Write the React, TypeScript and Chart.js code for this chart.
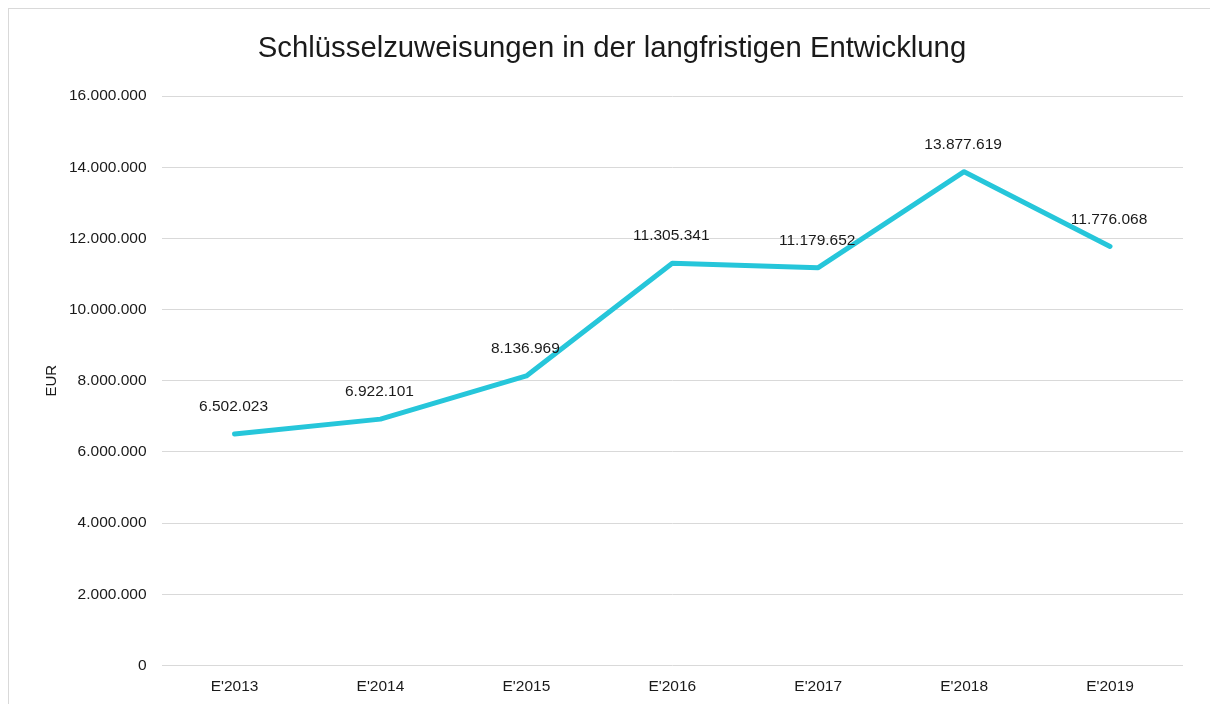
import React, { useEffect, useRef } from "react";
import { Chart, registerables } from "chart.js";

Chart.register(...registerables);

const categories = ["E'2013", "E'2014", "E'2015", "E'2016", "E'2017", "E'2018", "E'2019"];
const values = [6502023, 6922101, 8136969, 11305341, 11179652, 13877619, 11776068];
const chartTitle = "Schlüsselzuweisungen in der langfristigen Entwicklung";
const yAxisTitle = "EUR";

const FONT = "'Liberation Sans', Arial, sans-serif";

function fmt(n: number): string {
  return Math.round(n).toString().replace(/\B(?=(\d{3})+(?!\d))/g, ".");
}

const dataLabelPlugin = {
  id: "dataLabels",
  afterDatasetsDraw(chart: any) {
    const ctx = chart.ctx;
    const meta = chart.getDatasetMeta(0);
    ctx.save();
    ctx.font = `15.5px ${FONT}`;
    ctx.fillStyle = "#1a1a1a";
    ctx.textAlign = "center";
    ctx.textBaseline = "middle";
    meta.data.forEach((el: any, i: number) => {
      ctx.fillText(fmt(values[i]), el.x - 1, el.y - 27);
    });
    ctx.restore();
  },
};

export default function App() {
  const ref = useRef<HTMLCanvasElement | null>(null);
  useEffect(() => {
    document.body.style.overflow = "hidden";
    const c = ref.current!;
    const chart = new Chart(c, {
      type: "line",
      data: {
        labels: categories,
        datasets: [
          {
            data: values,
            borderColor: "#26C6DA",
            backgroundColor: "#26C6DA",
            borderWidth: 5,
            pointRadius: 0,
            pointHoverRadius: 0,
            tension: 0,
            borderCapStyle: "round",
            borderJoinStyle: "round",
          },
        ],
      },
      options: {
        animation: false,
        responsive: false,
        maintainAspectRatio: false,
        layout: { padding: { top: 12, left: 32, right: 28, bottom: 1 } },
        plugins: {
          legend: { display: false },
          tooltip: { enabled: false },
          title: {
            display: true,
            text: chartTitle,
            color: "#1a1a1a",
            font: { family: FONT, size: 29.3, weight: "normal" },
            padding: { top: 10, bottom: 30 },
          },
        },
        scales: {
          x: {
            offset: true,
            grid: { display: false, drawTicks: false },
            border: { display: false },
            ticks: { color: "#1a1a1a", font: { family: FONT, size: 15.5 }, padding: 12 },
          },
          y: {
            min: 0,
            max: 16000000,
            grid: { color: "#d9d9d9", lineWidth: 1, drawTicks: false },
            border: { display: false },
            ticks: {
              stepSize: 2000000,
              color: "#1a1a1a",
              font: { family: FONT, size: 15.5 },
              padding: 15,
              callback: (v: any) => fmt(Number(v)),
            },
            title: {
              display: true,
              text: yAxisTitle,
              color: "#1a1a1a",
              font: { family: FONT, size: 15 },
              padding: { top: 2, bottom: -7 },
            },
          },
        },
      },
      plugins: [dataLabelPlugin],
    });
    return () => chart.destroy();
  }, []);
  return (
    <div
      style={{
        position: "absolute",
        left: 8,
        top: 8,
        width: 1230,
        height: 720,
        border: "1px solid #d9d9d9",
        background: "#fff",
      }}
    >
      <canvas ref={ref} width={1202} height={700} style={{ display: "block", width: 1202, height: 700 }} />
    </div>
  );
}
